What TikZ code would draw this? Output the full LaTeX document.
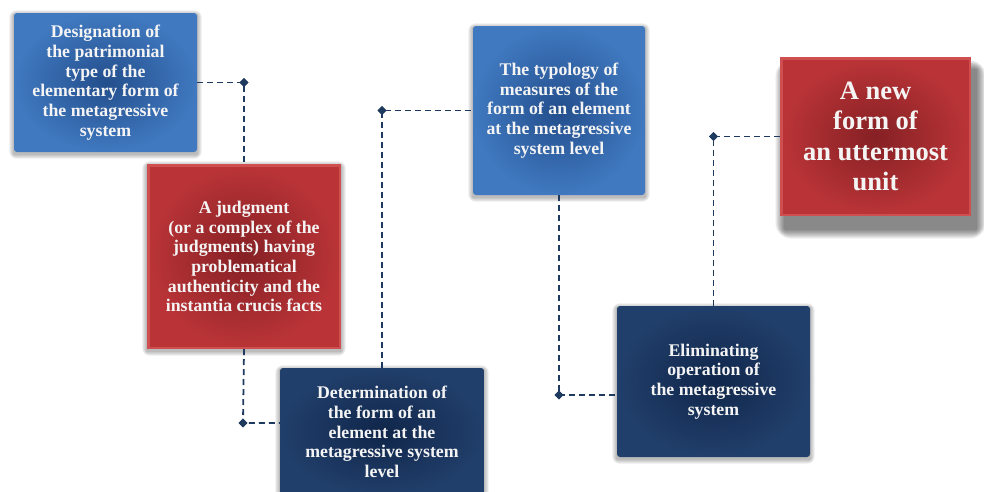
\documentclass[tikz,border=0pt]{standalone}
\usepackage{fontspec}
\setmainfont{Liberation Serif}
\usetikzlibrary{shapes.geometric,calc}
\definecolor{blueout}{HTML}{4079C0}
\definecolor{bluein}{HTML}{234E8C}
\definecolor{navyout}{HTML}{213F6B}
\definecolor{navyin}{HTML}{10264A}
\definecolor{redout}{HTML}{BA3437}
\definecolor{redin}{HTML}{852024}
\definecolor{redrim}{HTML}{CF4E50}
\definecolor{conncol}{HTML}{1F3A5F}
\definecolor{txt}{HTML}{F4F4F4}
\tikzset{
  boxbase/.style={align=center, text=txt, inner sep=4pt,
    font=\fontsize{17.8}{19.7}\selectfont\bfseries},
  bluebox/.style={boxbase, rounded corners=3pt, inner color=bluein, outer color=blueout},
  navybox/.style={boxbase, rounded corners=3pt, inner color=navyin, outer color=navyout},
  redbox/.style={boxbase, inner color=redin, outer color=redout, draw=redrim, line width=2.5pt},
  conn/.style={draw=conncol, line width=1.8pt, dash pattern=on 6pt off 4pt},
  dmark/.style={diamond, fill=conncol, inner sep=0pt, minimum size=9pt}
}
\newcommand{\softshadow}[4]{% node, xshift, yshift(down), spread
  \foreach \k in {1,...,#4}{
    \fill[black, opacity=0.035, rounded corners=\k pt]
      ($(#1.north west)+(#2-\k*0.6,#3-\k*0.6)$) rectangle ($(#1.south east)+(#2+\k*0.6,#3+\k*0.6)$);
  }}
\begin{document}
\begin{tikzpicture}[x=1pt,y=-1pt]
\useasboundingbox (0,0) rectangle (984,491);
\fill[white] (0,0) rectangle (984,491);
% node placeholders for shadows (drawn first)
\path (105.5,82.5) node[minimum width=183pt, minimum height=139pt, inner sep=0pt] (s1) {};
\path (244,256.5) node[minimum width=194pt, minimum height=185pt, inner sep=0pt] (s2) {};
\path (382,432) node[minimum width=204pt, minimum height=128pt, inner sep=0pt] (s3) {};
\path (559,110.5) node[minimum width=172pt, minimum height=169pt, inner sep=0pt] (s4) {};
\path (713.5,381.5) node[minimum width=193pt, minimum height=151pt, inner sep=0pt] (s5) {};
\path (875.5,136.5) node[minimum width=191pt, minimum height=159pt, inner sep=0pt] (s6) {};
\softshadow{s1}{0}{2}{8}
\softshadow{s2}{0}{2}{8}
\softshadow{s3}{0}{2}{8}
\softshadow{s4}{0}{2}{8}
\softshadow{s5}{0}{2}{8}
\softshadow{s6}{5}{13}{16}
% boxes
\node[bluebox, minimum width=183pt, minimum height=139pt] (b1) at (s1)
  {Designation of\\the patrimonial\\type of the\\elementary form of\\the metagressive\\system};
\node[redbox, minimum width=191.5pt, minimum height=182.5pt] (b2) at (s2)
  {A judgment\\(or a complex of the\\judgments) having\\problematical\\authenticity and the\\instantia crucis facts};
\node[navybox, minimum width=204pt, minimum height=128pt] (b3) at (s3)
  {Determination of\\the form of an\\element at the\\metagressive system\\level};
\node[bluebox, minimum width=172pt, minimum height=169pt] (b4) at (s4)
  {The typology of\\measures of the\\form of an element\\at the metagressive\\system level};
\node[navybox, minimum width=193pt, minimum height=151pt] (b5) at (s5)
  {Eliminating\\operation of\\the metagressive\\system};
\node[redbox, minimum width=188.5pt, minimum height=156.5pt,
  font=\fontsize{26.5}{30.5}\selectfont\bfseries] (b6) at (s6)
  {A new\\form of\\an uttermost\\unit};
% diamonds
\node[dmark] (d1) at (b2.north |- b1.east) {};
\node[dmark] (d2) at (243,423) {};
\node[dmark] (d3) at (b3.north |- b4.west) {};
\node[dmark] (d4) at (559,395) {};
\node[dmark] (d5) at (b5.north |- b6.west) {};
% connectors
\draw[conn] (b1.east) -- (d1.center) -- (b2.north);
\draw[conn] (b2.south) -- (d2.center) -- (d2 -| b3.west);
\draw[conn] (b3.north) -- (d3.center) -- (b4.west);
\draw[conn] (b4.south) -- (d4.center) -- (d4 -| b5.west);
\draw[conn] (b5.north) -- (d5.center) -- (b6.west);
\node[dmark] at (d1) {};
\node[dmark] at (d2) {};
\node[dmark] at (d3) {};
\node[dmark] at (d4) {};
\node[dmark] at (d5) {};
\end{tikzpicture}
\end{document}
